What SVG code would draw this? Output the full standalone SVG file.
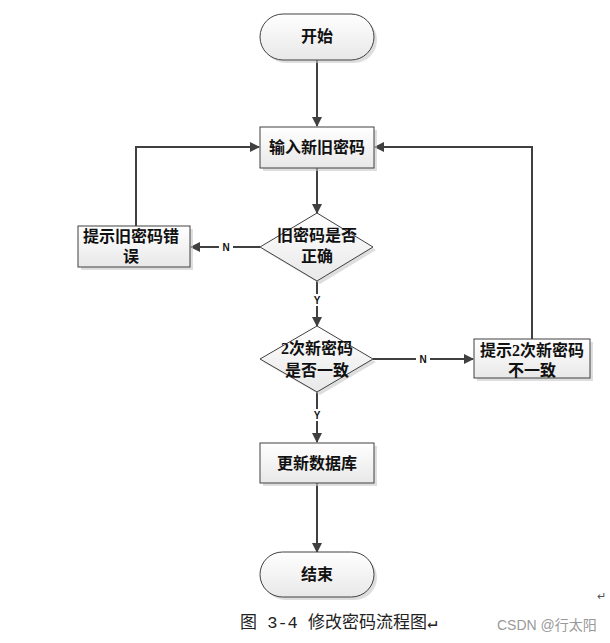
<svg xmlns="http://www.w3.org/2000/svg" width="610" height="643" viewBox="0 0 610 643">
<defs>
<linearGradient id="g" x1="0" y1="0" x2="0" y2="1"><stop offset="0" stop-color="#ffffff"/><stop offset="1" stop-color="#e8e8e8"/></linearGradient>
<marker id="ah" markerWidth="10" markerHeight="10" refX="9" refY="5" orient="auto" markerUnits="userSpaceOnUse"><path d="M0,0 L10,5 L0,10 z" fill="#404040"/></marker>
</defs>
<style>
.s{fill:#c8c8c8;opacity:0.6}
.n{fill:url(#g);stroke:#404040;stroke-width:1}
.t{font-family:"Liberation Serif","Noto Sans CJK SC",serif;font-size:16px;font-weight:bold;fill:#111;text-anchor:middle}
.c{fill:none;stroke:#404040;stroke-width:2}
.l{font-family:"Liberation Sans",sans-serif;font-size:10px;font-weight:bold;fill:#111;text-anchor:middle}
</style>
<rect width="610" height="643" fill="#fff"/>
<g id="connectors">
<line class="c" x1="317" y1="60" x2="317" y2="126" marker-end="url(#ah)"/>
<line class="c" x1="317" y1="168" x2="317" y2="213" marker-end="url(#ah)"/>
<line class="c" x1="260" y1="247" x2="191" y2="247" marker-end="url(#ah)"/>
<polyline class="c" points="136,226 136,147 259,147" marker-end="url(#ah)"/>
<line class="c" x1="317" y1="281" x2="317" y2="326" marker-end="url(#ah)"/>
<line class="c" x1="373" y1="359" x2="473" y2="359" marker-end="url(#ah)"/>
<polyline class="c" points="532,339 532,147 375,147" marker-end="url(#ah)"/>
<line class="c" x1="317" y1="392" x2="317" y2="442" marker-end="url(#ah)"/>
<line class="c" x1="317" y1="483" x2="317" y2="552" marker-end="url(#ah)"/>
<rect x="219" y="241" width="14" height="12" fill="#fff"/><text class="l" x="226" y="251">N</text>
<rect x="310" y="294" width="14" height="12" fill="#fff"/><text class="l" x="317" y="304">Y</text>
<rect x="416" y="353" width="14" height="12" fill="#fff"/><text class="l" x="423" y="363">N</text>
<rect x="310" y="409" width="14" height="12" fill="#fff"/><text class="l" x="317" y="419">Y</text>
</g>
<g id="start">
<rect class="s" x="263" y="17" width="114" height="46" rx="23"/>
<rect class="n" x="260" y="14" width="114" height="46" rx="23"/>
<text class="t" x="317" y="42">开始</text>
</g>
<g id="input">
<rect class="s" x="263" y="130" width="114" height="41"/>
<rect class="n" x="260" y="127" width="114" height="41"/>
<text class="t" x="317" y="153">输入新旧密码</text>
</g>
<g id="check-old">
<polygon class="s" points="320,216 376,250 320,284 263,250"/>
<polygon class="n" points="317,213 373,247 317,281 260,247"/>
<text class="t" x="317" y="241">旧密码是否</text>
<text class="t" x="317" y="262">正确</text>
</g>
<g id="old-error">
<rect class="s" x="81" y="229" width="112" height="41"/>
<rect class="n" x="78" y="226" width="112" height="41"/>
<text class="t" x="131" y="242">提示旧密码错</text>
<text class="t" x="131" y="262">误</text>
</g>
<g id="check-new">
<polygon class="s" points="320,329 376,362 320,395 263,362"/>
<polygon class="n" points="317,326 373,359 317,392 260,359"/>
<text class="t" x="317" y="354">2次新密码</text>
<text class="t" x="317" y="376">是否一致</text>
</g>
<g id="new-mismatch">
<rect class="s" x="477" y="342" width="116" height="39"/>
<rect class="n" x="474" y="339" width="116" height="39"/>
<text class="t" x="532" y="356">提示2次新密码</text>
<text class="t" x="532" y="376">不一致</text>
</g>
<g id="update">
<rect class="s" x="263" y="446" width="114" height="40"/>
<rect class="n" x="260" y="443" width="114" height="40"/>
<text class="t" x="317" y="469">更新数据库</text>
</g>
<g id="end">
<rect class="s" x="263" y="555" width="114" height="45" rx="22.5"/>
<rect class="n" x="260" y="552" width="114" height="45" rx="22.5"/>
<text class="t" x="317" y="580">结束</text>
</g>
<text x="240" y="628" font-family="'Liberation Mono','Noto Sans CJK SC',monospace" font-size="17" fill="#222">图 3-4 修改密码流程图↵</text>
<text x="597" y="600" font-family="'Liberation Sans',sans-serif" font-size="11" fill="#555">↵</text>
<text x="497" y="630" font-family="'Liberation Sans','Noto Sans CJK SC',sans-serif" font-size="14" fill="#999">CSDN @行太阳</text>
</svg>
